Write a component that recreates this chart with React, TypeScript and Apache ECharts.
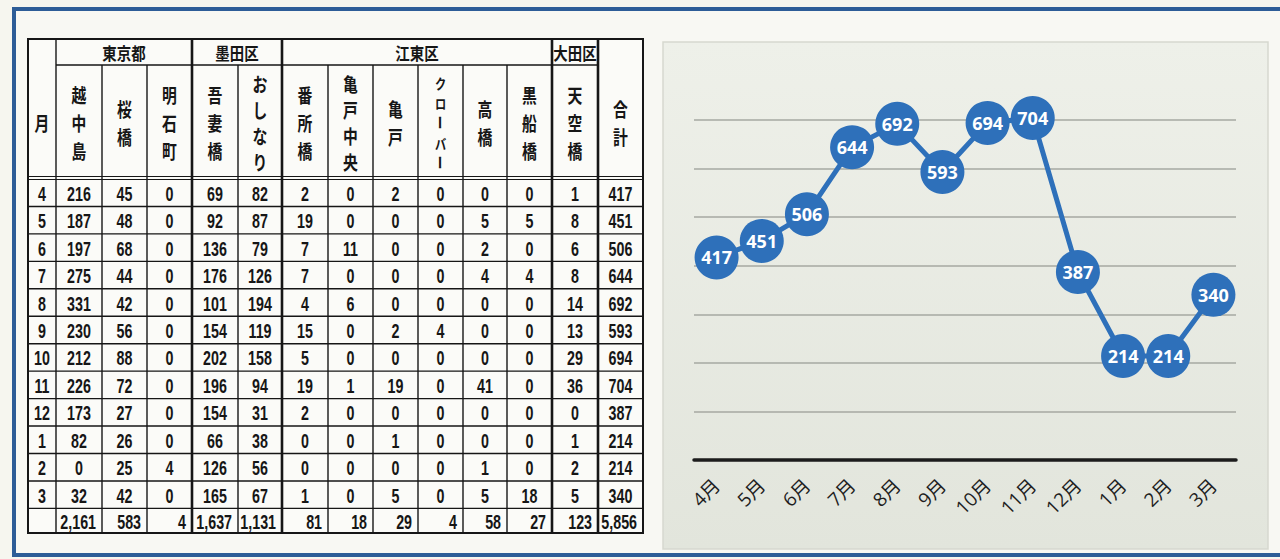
import React, { useEffect, useRef } from "react";
import * as echarts from "echarts";

// ---- data ----
const months = ["4月", "5月", "6月", "7月", "8月", "9月", "10月", "11月", "12月", "1月", "2月", "3月"];
const monthNums = ["4", "5", "6", "7", "8", "9", "10", "11", "12", "1", "2", "3"];
const groups = [
  { name: "東京都", from: 0, to: 3 },
  { name: "墨田区", from: 3, to: 5 },
  { name: "江東区", from: 5, to: 11 },
  { name: "大田区", from: 11, to: 12 },
];
const stations = ["越中島", "桜橋", "明石町", "吾妻橋", "おしなり", "番所橋", "亀戸中央", "亀戸", "クローバー", "高橋", "黒船橋", "天空橋"];
const etchujima = [216, 187, 197, 275, 331, 230, 212, 226, 173, 82, 0, 32];
const sakurabashi = [45, 48, 68, 44, 42, 56, 88, 72, 27, 26, 25, 42];
const akashicho = [0, 0, 0, 0, 0, 0, 0, 0, 0, 0, 4, 0];
const azumabashi = [69, 92, 136, 176, 101, 154, 202, 196, 154, 66, 126, 165];
const oshinari = [82, 87, 79, 126, 194, 119, 158, 94, 31, 38, 56, 67];
const banshobashi = [2, 19, 7, 7, 4, 15, 5, 19, 2, 0, 0, 1];
const kameidoChuo = [0, 0, 11, 0, 6, 0, 0, 1, 0, 0, 0, 0];
const kameido = [2, 0, 0, 0, 0, 2, 0, 19, 0, 1, 0, 5];
const clover = [0, 0, 0, 0, 0, 4, 0, 0, 0, 0, 0, 0];
const takabashi = [0, 5, 2, 4, 0, 0, 0, 41, 0, 0, 1, 5];
const kurofunebashi = [0, 5, 0, 4, 0, 0, 0, 0, 0, 0, 0, 18];
const tenkubashi = [1, 8, 6, 8, 14, 13, 29, 36, 0, 1, 2, 5];
const monthlyTotal = [417, 451, 506, 644, 692, 593, 694, 704, 387, 214, 214, 340];
const columnTotals = ["2,161", "583", "4", "1,637", "1,131", "81", "18", "29", "4", "58", "27", "123", "5,856"];
const stationValues = [etchujima, sakurabashi, akashicho, azumabashi, oshinari, banshobashi, kameidoChuo, kameido, clover, takabashi, kurofunebashi, tenkubashi];
const yTicks = [0, 100, 200, 300, 400, 500, 600, 700, 800];

// ---- layout ----
const colEdges = [28, 56, 102, 147, 192, 238, 282, 328, 373, 418, 463, 507, 552, 598, 643];
const thickCols = new Set([56, 192, 282, 552, 598]);
const T_TOP = 39;
const G_BOTTOM = 65;
const H_BOTTOM = 178;
const D_TOP = 179;
const ROW_H = 27.45;
const T_BOTTOM = 533;
const INK = "#161616";
const NUM_FONT = '"Liberation Sans", Arial, sans-serif';
const JP_FONT = '"Noto Sans CJK JP", "Noto Sans CJK SC", sans-serif';

function ln(x1: number, y1: number, x2: number, y2: number, w: number) {
  return { type: "line", z: 5, shape: { x1, y1, x2, y2 }, style: { stroke: INK, lineWidth: w } };
}
function txt(text: string, x: number, y: number, size: number, family: string, align = "center", sx = 0.72) {
  return {
    type: "text",
    z: 6,
    x,
    y,
    scaleX: sx,
    style: { text, x: 0, y: 0, fill: INK, font: `bold ${size}px ${family}`, textAlign: align, textVerticalAlign: "middle" },
  };
}

function buildTable() {
  const els: any[] = [];
  const L = colEdges[0];
  const R = colEdges[colEdges.length - 1];
  els.push({ type: "rect", z: 1, shape: { x: L, y: T_TOP, width: R - L, height: T_BOTTOM - T_TOP }, style: { fill: "#fbfbf8" } });
  els.push({ type: "rect", z: 7, shape: { x: L, y: T_TOP, width: R - L, height: T_BOTTOM - T_TOP }, style: { fill: "none", stroke: INK, lineWidth: 2 } });
  colEdges.slice(1, -1).forEach((x) => {
    const startY = thickCols.has(x) ? T_TOP : G_BOTTOM;
    els.push(ln(x, startY, x, T_BOTTOM, thickCols.has(x) && x !== 56 ? 2.6 : 1.4));
  });
  els.push(ln(colEdges[1], G_BOTTOM, colEdges[13], G_BOTTOM, 1.4));
  els.push(ln(L, H_BOTTOM - 1.5, R, H_BOTTOM - 1.5, 1.2));
  els.push(ln(L, H_BOTTOM + 1.5, R, H_BOTTOM + 1.5, 1.2));
  for (let i = 1; i <= 12; i++) {
    const y = D_TOP + i * ROW_H;
    els.push(ln(L, y, R, y, 1.4));
  }
  groups.forEach((g) => {
    const cx = (colEdges[g.from + 1] + colEdges[g.to + 1]) / 2;
    els.push(txt(g.name, cx, (T_TOP + G_BOTTOM) / 2 + 1, 17, JP_FONT, "center", 0.85));
  });
  const headers = ["月", ...stations, "合計"];
  const hc = (G_BOTTOM + H_BOTTOM) / 2 + 1;
  headers.forEach((h, ci) => {
    const cx = (colEdges[ci] + colEdges[ci + 1]) / 2;
    const chars = Array.from(h);
    const n = chars.length;
    const step = n <= 3 ? 28 : n === 4 ? 26 : 20;
    const small = n >= 5;
    chars.forEach((c, i) => {
      const cy = hc + (i - (n - 1) / 2) * step;
      if (c === "ー") {
        // long vowel mark drawn vertically, as in vertical writing
        els.push({ type: "text", z: 6, x: cx, y: cy, rotation: -Math.PI / 2, style: { text: c, x: 0, y: 0, fill: INK, font: `bold 14px ${JP_FONT}`, textAlign: "center", textVerticalAlign: "middle" } });
      } else {
        els.push(txt(c, cx, cy, small ? 14 : 19, JP_FONT, "center", small ? 0.8 : 0.78));
      }
    });
  });
  const allCols = [...stationValues, monthlyTotal];
  for (let r = 0; r < 12; r++) {
    const cy = D_TOP + (r + 0.5) * ROW_H + 1;
    els.push(txt(monthNums[r], (colEdges[0] + colEdges[1]) / 2, cy, 21, NUM_FONT, "center", 0.68));
    allCols.forEach((col, ci) => {
      const cx = (colEdges[ci + 1] + colEdges[ci + 2]) / 2;
      els.push(txt(String(col[r]), cx, cy, 21, NUM_FONT, "center", 0.68));
    });
  }
  const ty = (D_TOP + 12 * ROW_H + T_BOTTOM) / 2 + 1;
  columnTotals.forEach((t, ci) => {
    els.push(txt(t, colEdges[ci + 2] - 6, ty, 21, NUM_FONT, "right", 0.68));
  });
  return els;
}

export default function App() {
  const ref = useRef<HTMLDivElement>(null);
  useEffect(() => {
    if (!ref.current) return;
    const chart = echarts.init(ref.current, null, { renderer: "svg" });
    const option: any = {
      animation: false,
      backgroundColor: "#f6f6ef",
      graphic: [
        { type: "rect", z: -20, shape: { x: 14, y: 9, width: 1290, height: 546 }, style: { fill: "#f8f8f3", stroke: "#2d5d97", lineWidth: 4 } },
        {
          type: "rect",
          z: -10,
          shape: { x: 663, y: 42, width: 605, height: 507 },
          style: {
            fill: new echarts.graphic.LinearGradient(0, 0, 0, 1, [
              { offset: 0, color: "#eef0e9" },
              { offset: 1, color: "#e2e5dc" },
            ]),
            stroke: "#d6d8cf",
            lineWidth: 1.5,
          },
        },
        ...buildTable(),
      ],
      grid: { left: 694, width: 542, top: 71.4, height: 388.6 },
      xAxis: {
        type: "category",
        data: months,
        boundaryGap: true,
        axisLine: { show: true, lineStyle: { color: "#1c1c1c", width: 3.5 } },
        axisTick: { show: false },
        axisLabel: {
          rotate: 45,
          margin: 22,
          color: "#1e1e1e",
          fontSize: 19,
          fontFamily: '"Open Sans", "Noto Sans CJK JP", sans-serif',
        },
      },
      yAxis: {
        type: "value",
        min: yTicks[0],
        max: yTicks[yTicks.length - 1],
        interval: 100,
        axisLine: { show: false },
        axisTick: { show: false },
        axisLabel: { show: false },
        splitLine: { show: true, showMaxLine: false, showMinLine: false, lineStyle: { color: "#a6a9a2", width: 1.6 } },
      },
      series: [
        {
          type: "line",
          data: monthlyTotal,
          symbol: "circle",
          symbolSize: 44,
          lineStyle: { color: "#2e70ba", width: 5 },
          itemStyle: { color: "#2e70ba" },
          label: {
            show: true,
            position: "inside",
            color: "#ffffff",
            fontWeight: "bold",
            fontSize: 18,
            fontFamily: '"Open Sans", "Noto Sans", sans-serif',
          },
          z: 10,
        },
      ],
    };
    chart.setOption(option);
    return () => chart.dispose();
  }, []);
  return <div ref={ref} style={{ position: "fixed", left: 0, top: 0, width: 1280, height: 559 }} />;
}
